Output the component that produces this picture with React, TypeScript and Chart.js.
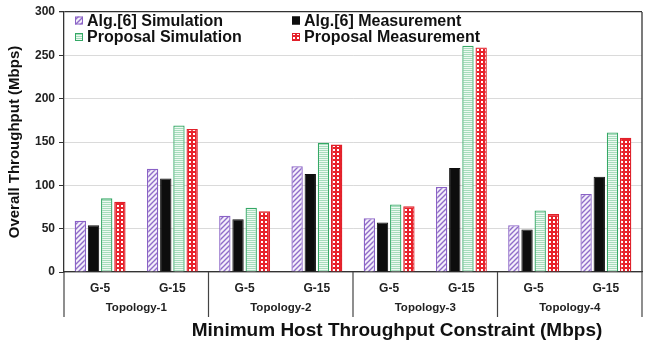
import React, { useEffect, useRef } from 'react';
import { Chart, registerables } from 'chart.js';

Chart.register(...registerables);

const groups = ['G-5', 'G-15', 'G-5', 'G-15', 'G-5', 'G-15', 'G-5', 'G-15'];
const topologies = ['Topology-1', 'Topology-2', 'Topology-3', 'Topology-4'];
const seriesNames = ['Alg.[6] Simulation', 'Alg.[6] Measurement', 'Proposal Simulation', 'Proposal Measurement'];
const algSim = [59, 119, 65, 122, 62, 98, 54, 90];
const algMeas = [54, 108, 61, 113, 57, 120, 49, 110];
const propSim = [85, 169, 74, 149, 78, 261, 71, 161];
const propMeas = [81, 165, 70, 147, 76, 259, 67, 155];
const yTitle = 'Overall Throughput (Mbps)';
const xTitle = 'Minimum Host Throughput Constraint (Mbps)';

const FONT = '"Liberation Sans", Arial, Helvetica, sans-serif';

function makePattern(kind: string): CanvasPattern | string {
  const c = document.createElement('canvas');
  const ctx = c.getContext('2d');
  if (!ctx) return '#fff';
  if (kind === 'purple') {
    const s = 5;
    c.width = s; c.height = s;
    ctx.fillStyle = '#f4effa';
    ctx.fillRect(0, 0, s, s);
    ctx.strokeStyle = '#8f6cc9';
    ctx.lineWidth = 1.4;
    ctx.beginPath();
    ctx.moveTo(0, s); ctx.lineTo(s, 0);
    ctx.moveTo(-1, 1); ctx.lineTo(1, -1);
    ctx.moveTo(s - 1, s + 1); ctx.lineTo(s + 1, s - 1);
    ctx.stroke();
  } else if (kind === 'green') {
    c.width = 2; c.height = 2;
    ctx.fillStyle = '#eef9f2';
    ctx.fillRect(0, 0, 2, 2);
    ctx.fillStyle = '#a6dcbc';
    ctx.fillRect(0, 0, 2, 1);
  } else {
    c.width = 4; c.height = 4;
    ctx.fillStyle = '#e8222b';
    ctx.fillRect(0, 0, 4, 4);
    ctx.fillStyle = '#ffffff';
    ctx.fillRect(1, 1, 2, 2);
  }
  const p = ctx.createPattern(c, 'repeat');
  return p || '#fff';
}

const framePlugin = {
  id: 'framePlugin',
  afterDraw(chart: any) {
    const { ctx, chartArea } = chart;
    const { left, right, top, bottom } = chartArea;
    ctx.save();
    ctx.strokeStyle = '#333';
    ctx.lineWidth = 1.3;
    ctx.beginPath();
    ctx.moveTo(right, top);
    ctx.lineTo(right, bottom);
    ctx.stroke();
    const xs = chart.scales.x;
    const n = groups.length;
    ctx.strokeStyle = '#444';
    ctx.lineWidth = 1.2;
    for (let k = 0; k <= n; k += 2) {
      let x;
      if (k === 0) x = left;
      else if (k === n) x = right;
      else x = (xs.getPixelForValue(k - 1) + xs.getPixelForValue(k)) / 2;
      ctx.beginPath();
      ctx.moveTo(x, bottom);
      ctx.lineTo(x, bottom + 45);
      ctx.stroke();
    }
    const ds = chart.data.datasets;
    const colX = [left + 11, left + 228];
    const rowY = [top + 8.5, top + 25];
    ctx.font = 'bold 16px ' + FONT;
    ctx.textBaseline = 'middle';
    ctx.textAlign = 'left';
    for (let i = 0; i < ds.length; i++) {
      const cx = colX[i % 2];
      const cy = rowY[Math.floor(i / 2)];
      const sz = 8;
      ctx.fillStyle = ds[i].backgroundColor;
      ctx.fillRect(cx, cy - sz / 2, sz, sz);
      ctx.strokeStyle = ds[i].borderColor;
      ctx.lineWidth = 1;
      ctx.strokeRect(cx + 0.5, cy - sz / 2 + 0.5, sz - 1, sz - 1);
      ctx.fillStyle = '#111';
      ctx.fillText(ds[i].label, cx + 12, cy + 1);
    }
    ctx.font = 'bold 19px ' + FONT;
    ctx.textAlign = 'center';
    ctx.fillStyle = '#111';
    ctx.fillText(xTitle, 397, 331);
    ctx.restore();
  },
};

export default function App() {
  const ref = useRef<HTMLCanvasElement | null>(null);
  useEffect(() => {
    document.body.style.margin = '0';
    const canvas = ref.current;
    if (!canvas) return;
    Chart.defaults.font.family = FONT;
    const chart = new Chart(canvas, {
      type: 'bar',
      data: {
        labels: groups,
        datasets: [
          { label: seriesNames[0], data: algSim, backgroundColor: makePattern('purple') as any, borderColor: '#8a62c6', borderWidth: 1.3 },
          { label: seriesNames[1], data: algMeas, backgroundColor: '#0d0d0d', borderColor: '#0d0d0d', borderWidth: 1 },
          { label: seriesNames[2], data: propSim, backgroundColor: makePattern('green') as any, borderColor: '#35a866', borderWidth: 1.3 },
          { label: seriesNames[3], data: propMeas, backgroundColor: makePattern('red') as any, borderColor: '#e0202a', borderWidth: 1.3 },
        ],
      },
      options: {
        responsive: false,
        animation: false,
        layout: { padding: { left: 0, right: 7, top: 12, bottom: 0 } },
        datasets: { bar: { categoryPercentage: 0.73, barPercentage: 0.86 } },
        plugins: { legend: { display: false }, tooltip: { enabled: false } },
        scales: {
          x: {
            type: 'category',
            position: 'bottom',
            grid: { display: false, drawTicks: false },
            border: { display: true, color: '#333', width: 1.3 },
            ticks: { font: { size: 12, weight: 'bold' }, color: '#222', padding: 9, maxRotation: 0, autoSkip: false },
            afterFit: (s: any) => { s.height = 24; },
          },
          x2: {
            type: 'category',
            position: 'bottom',
            labels: topologies,
            offset: true,
            grid: { display: false, drawTicks: false },
            border: { display: false },
            ticks: { font: { size: 11.5, weight: 'bold' }, color: '#222', padding: 5, maxRotation: 0, autoSkip: false },
            afterFit: (s: any) => { s.height = 49; },
          },
          y: {
            min: 0,
            max: 300,
            ticks: { stepSize: 50, font: { size: 12, weight: 'bold' }, color: '#222', padding: 4 },
            grid: {
              color: (c: any) => (c.tick && c.tick.value === 300 ? '#333' : '#dadada'),
              lineWidth: (c: any) => (c.tick && c.tick.value === 300 ? 1.3 : 1),
              tickColor: '#333',
              tickLength: 5,
            },
            border: { display: true, color: '#333', width: 1.3 },
            title: { display: true, text: yTitle, font: { size: 15, weight: 'bold' }, color: '#111', padding: { top: 6, bottom: 0 } },
            afterFit: (s: any) => { s.width = 64; },
          },
        },
      },
      plugins: [framePlugin],
    } as any);
    return () => chart.destroy();
  }, []);
  return (
    <div style={{ position: 'fixed', left: 0, top: 0, width: 649, height: 345, background: '#fff' }}>
      <canvas ref={ref} width={649} height={345} />
    </div>
  );
}
